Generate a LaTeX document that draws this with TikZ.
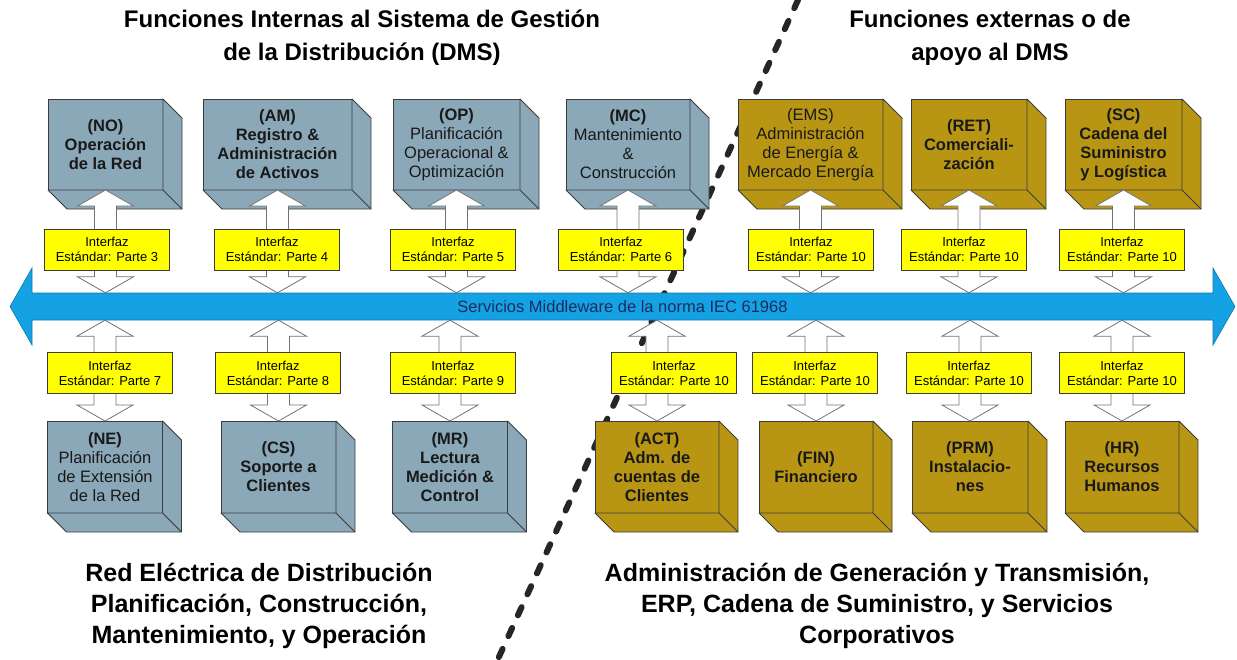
\documentclass[tikz,border=0pt]{standalone}
\usepackage{fontspec}
\setmainfont{Liberation Sans}
\usetikzlibrary{arrows.meta,shapes,positioning,calc}

\definecolor{azul}{RGB}{138,168,184}
\definecolor{oro}{RGB}{184,150,20}
\definecolor{amarillo}{RGB}{255,255,0}
\definecolor{celeste}{RGB}{20,162,228}
\definecolor{borde}{RGB}{60,60,60}
\definecolor{marino}{RGB}{25,45,95}

% texto sin negrita dentro de las cajas
\newcommand{\fino}{\mdseries}

% flecha doble (de arriba hacia abajo)
\newcommand{\flecha}[2]{%
  \draw[flecha] let \p1=#1, \p2=#2 in
    (\x1,\y1) -- (\x1+28pt,\y1-16pt) -- (\x1+11pt,\y1-16pt) -- (\x1+11pt,\y2+16pt)
    -- (\x1+28pt,\y2+16pt) -- (\x1,\y2) -- (\x1-28pt,\y2+16pt) -- (\x1-11pt,\y2+16pt)
    -- (\x1-11pt,\y1-16pt) -- (\x1-28pt,\y1-16pt) -- cycle;}

\begin{document}
\begin{tikzpicture}[x=1pt,y=-1pt,
  cubo/.style={draw=borde,line width=0.8pt,fill=#1,minimum height=91pt,inner sep=2pt,
    outer sep=0pt,align=center,text=black!90,font=\fontsize{16.5}{19}\selectfont\bfseries},
  interfaz/.style={draw=borde,line width=0.7pt,fill=amarillo,minimum width=125pt,
    minimum height=41pt,inner sep=1pt,align=center,font=\fontsize{13}{15}\selectfont},
  flecha/.style={draw=black!55,line width=0.8pt,fill=white},
  titulo/.style={align=center,font=\fontsize{24}{33}\selectfont\bfseries},
  pie/.style={align=center,font=\fontsize{25}{31}\selectfont\bfseries}]
\useasboundingbox (0,0) rectangle (1237,659);

% linea divisoria
\draw[line width=6pt,dash pattern=on 9pt off 14pt,line cap=round,black!85] (798,0) -- (498,659);

% bus de servicios
\draw[fill=celeste,draw=celeste!75!black,line width=0.6pt] (32,293) -- (32,268) -- (10,306.5)
  -- (32,345) -- (32,320) -- (1213,320) -- (1213,345) -- (1235,306.5) -- (1213,268) -- (1213,293) -- cycle;
\node[font=\fontsize{16.5}{18}\selectfont,text=marino,minimum width=1181pt,minimum height=27pt,
  inner sep=0pt] (bus) at (622.5,306.5) {Servicios Middleware de la norma IEC 61968};

% funciones internas (arriba)
\node[cubo=azul,minimum width=115pt] (no) at (105.5,144.5) {(NO)\\Operación\\de la Red};
\node[cubo=azul,minimum width=149pt] (am) at (277.5,144.5) {(AM)\\Registro \&\\Administración\\de Activos};
\node[cubo=azul,minimum width=127pt] (op) at (456.5,144.5) {(OP)\\{\fino Planificación}\\{\fino Operacional \&}\\{\fino Optimización}};
\node[cubo=azul,minimum width=124pt] (mc) at (628,144.5) {(MC)\\{\fino Mantenimiento}\\{\fino \&}\\{\fino Construcción}};
\node[cubo=oro,minimum width=145pt] (ems) at (810.5,144.5) {{\fino (EMS)}\\{\fino Administración}\\{\fino de Energía \&}\\{\fino Mercado Energía}};
\node[cubo=oro,minimum width=116pt] (ret) at (969,144.5) {(RET)\\Comerciali-\\zación};
\node[cubo=oro,minimum width=117pt] (sc) at (1123.5,144.5) {(SC)\\Cadena del\\Suministro\\y Logística};

% funciones (abajo)
\node[cubo=azul,minimum width=115pt,minimum height=92pt] (ne) at (105,467) {(NE)\\{\fino Planificación}\\{\fino de Extensión}\\{\fino de la Red}};
\node[cubo=azul,minimum width=115pt,minimum height=92pt] (cs) at (278.5,467) {(CS)\\Soporte a\\Clientes};
\node[cubo=azul,minimum width=115pt,minimum height=92pt] (mr) at (450,467) {(MR)\\Lectura\\Medición \&\\Control};
\node[cubo=oro,minimum width=124pt,minimum height=92pt] (act) at (657,467) {(ACT)\\Adm. de\\cuentas de\\Clientes};
\node[cubo=oro,minimum width=114pt,minimum height=92pt] (fin) at (816,467) {(FIN)\\Financiero};
\node[cubo=oro,minimum width=116pt,minimum height=92pt] (prm) at (970,467) {(PRM)\\Instalacio-\\nes};
\node[cubo=oro,minimum width=114pt,minimum height=92pt] (hr) at (1122,467) {(HR)\\Recursos\\Humanos};

% caras laterales
\foreach \b/\c in {no/azul,am/azul,op/azul,mc/azul,ems/oro,ret/oro,sc/oro,
                   ne/azul,cs/azul,mr/azul,act/oro,fin/oro,prm/oro,hr/oro}{
  \draw[borde,fill=\c,line width=0.8pt,line join=round] (\b.north east) -- ++(19,19)
    -- ($(\b.south east)+(19,19)$) -- ($(\b.south west)+(19,19)$) -- (\b.south west)
    -- (\b.south east) -- cycle;
  \draw[borde,line width=0.8pt] (\b.south east) -- ++(19,19);
}

% flechas hacia el bus
\foreach \b in {no,am,op,mc,ems,ret,sc}
  \flecha{(\b.south)}{(\b.south |- bus.north)};
\foreach \b in {ne,cs,mr,act,fin,prm,hr}
  \flecha{(\b.north |- bus.south)}{(\b.north)};

% interfaces
\node[interfaz] (p3) at (107,249.5) {Interfaz\\Estándar: Parte 3};
\node[interfaz] (p4) at (277,249.5) {Interfaz\\Estándar: Parte 4};
\node[interfaz] (p5) at (453,249.5) {Interfaz\\Estándar: Parte 5};
\node[interfaz] (p6) at (621,249.5) {Interfaz\\Estándar: Parte 6};
\node[interfaz] (p10a) at (811,249.5) {Interfaz\\Estándar: Parte 10};
\node[interfaz] (p10b) at (964,249.5) {Interfaz\\Estándar: Parte 10};
\node[interfaz] (p10c) at (1122,249.5) {Interfaz\\Estándar: Parte 10};
\node[interfaz] (p7) at (110,373) {Interfaz\\Estándar: Parte 7};
\node[interfaz] (p8) at (278,373) {Interfaz\\Estándar: Parte 8};
\node[interfaz] (p9) at (453,373) {Interfaz\\Estándar: Parte 9};
\node[interfaz] (p10d) at (674,373) {Interfaz\\Estándar: Parte 10};
\node[interfaz] (p10e) at (815,373) {Interfaz\\Estándar: Parte 10};
\node[interfaz] (p10f) at (969,373) {Interfaz\\Estándar: Parte 10};
\node[interfaz] (p10g) at (1122,373) {Interfaz\\Estándar: Parte 10};

% titulos
\node[titulo] (dms) at (362,38) {Funciones Internas al Sistema de Gestión\\de la Distribución (DMS)};
\node[titulo] (ext) at (990,38) {Funciones externas o de\\apoyo al DMS};
\node[pie] (red) at (259,606) {Red Eléctrica de Distribución\\Planificación, Construcción,\\Mantenimiento, y Operación};
\node[pie] (erp) at (877,606) {Administración de Generación y Transmisión,\\ERP, Cadena de Suministro, y Servicios\\Corporativos};
\end{tikzpicture}
\end{document}
